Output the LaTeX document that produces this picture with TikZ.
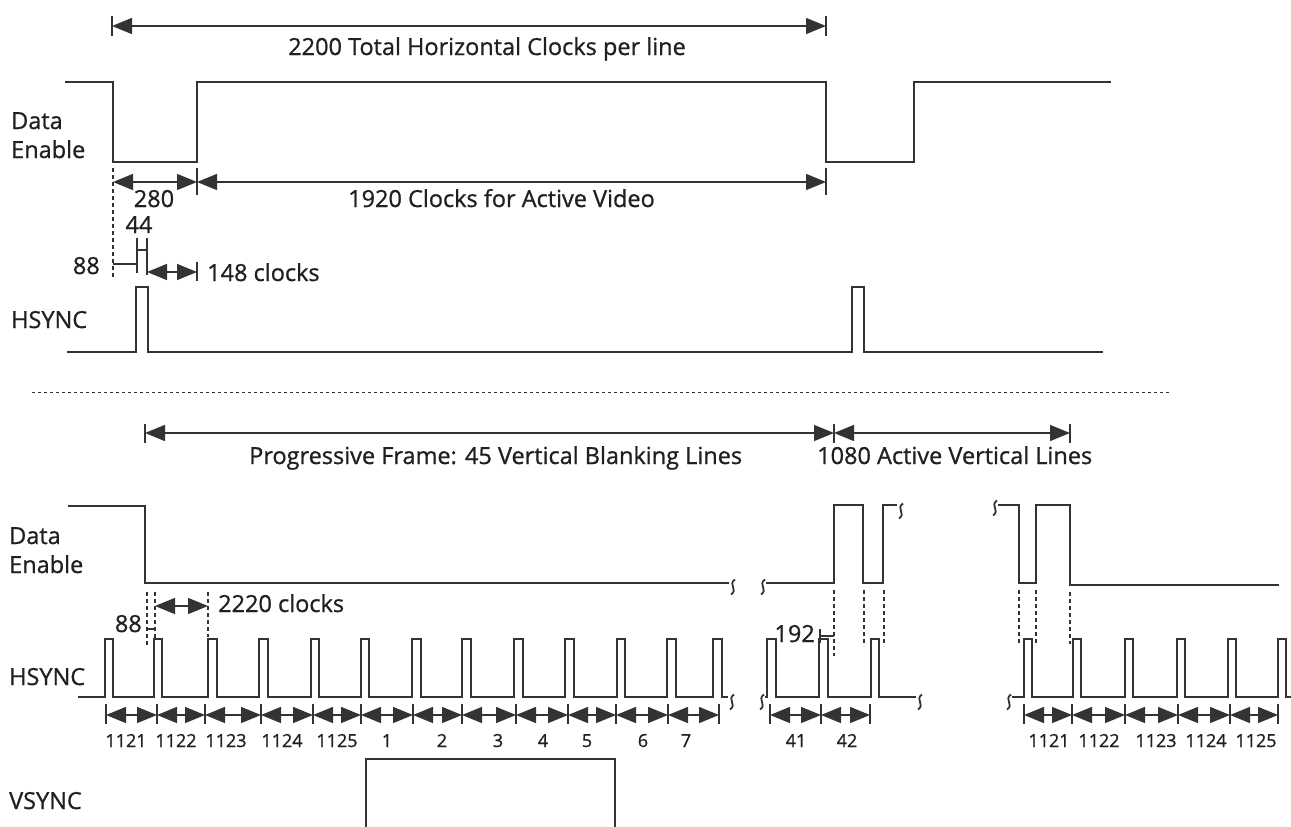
\documentclass[tikz,border=0pt]{standalone}
\usepackage{fontspec}
\setmainfont{Open Sans}[FakeBold=0.9]
\usetikzlibrary{arrows.meta}
\definecolor{ln}{HTML}{333333}
\definecolor{tx}{HTML}{231F20}
\begin{document}
\begin{tikzpicture}[x=1pt,y=-1pt,
  wave/.style={line width=1.7pt,color=ln,line join=miter},
  dim/.style={line width=1.5pt,color=ln,{Triangle[length=20pt,width=16pt]}-{Triangle[length=20pt,width=16pt]}},
  tk/.style={line width=1.5pt,color=ln},
  guide/.style={line width=1.2pt,color=ln,dash pattern=on 4pt off 3pt},
  sep/.style={line width=0.9pt,color=ln,dash pattern=on 3pt off 3pt},
  lbl/.style={font=\fontsize{23.5}{28}\selectfont,text=tx,inner sep=0pt},
  num/.style={font=\fontsize{18}{22}\selectfont,text=tx,inner sep=0pt},
  sq/.pic={\draw[line width=1.8pt,color=ln] (2,-7.5) .. controls (-5.5,-2.5) and (5.5,2.5) .. (-2,7.5);}
]
\useasboundingbox (0,0) rectangle (1291,827);

% ---------------- top: one line ----------------
\draw[dim] (112,26) -- (826,26);
\draw[tk] (112,16) -- (112,36) (826,16) -- (826,36);
\node[lbl,anchor=base] (ttot) at (487,55) {2200 Total Horizontal Clocks per line};

\node[lbl,anchor=base west] (tde1) at (11,129) {Data};
\node[lbl,anchor=base west] (tde2) at (11,158) {Enable};
\draw[wave] (65,82) -- (113,82) -- (113,162) -- (197,162) -- (197,82) -- (826,82)
  -- (826,162) -- (914,162) -- (914,82) -- (1111,82);

\draw[guide] (113,168) -- (113,277);
\draw[dim] (113,182) -- (197,182);
\draw[dim] (197,182) -- (826,182);
\draw[tk] (197,168) -- (197,195) (826,168) -- (826,195);
\node[lbl,anchor=base] (t280) at (154,207) {280};
\node[lbl,anchor=base west] (t1920) at (348,207) {1920 Clocks for Active Video};

\node[lbl,anchor=base] (t44) at (139,233) {44};
\draw[tk] (137,238) -- (137,273) (147,238) -- (147,275) (137,250) -- (147,250);
\node[lbl,anchor=base east] (t88) at (100,274) {88};
\draw[tk] (113,264) -- (137,264);
\draw[dim] (147,272) -- (197,272);
\draw[tk] (197,262) -- (197,281);
\node[lbl,anchor=base west] (t148) at (207,281) {148 clocks};

\node[lbl,anchor=base west] (ths) at (11,328) {HSYNC};
\draw[wave] (67,352) -- (136,352) -- (136,287) -- (148,287) -- (148,352) -- (852,352)
  -- (852,287) -- (864,287) -- (864,352) -- (1103,352);

\draw[sep] (32,392) -- (1170,392);

% ---------------- bottom: one frame ----------------
\draw[dim] (145,433) -- (834,433);
\draw[dim] (834,433) -- (1070,433);
\draw[tk] (145,424) -- (145,443) (834,424) -- (834,443) (1070,424) -- (1070,443);
\node[lbl,anchor=base west] (bprog) at (249,464) {Progressive Frame: 45 Vertical Blanking Lines};
\node[lbl,anchor=base west] (bact) at (817,464) {1080 Active Vertical Lines};

\node[lbl,anchor=base west] (bde1) at (9,544) {Data};
\node[lbl,anchor=base west] (bde2) at (9,573) {Enable};
\draw[wave] (68,506) -- (145,506) -- (145,583) -- (729,583);
\pic at (733,587) {sq};
\pic at (763,587) {sq};
\draw[wave] (766,583) -- (834,583) -- (834,505) -- (863,505) -- (863,583) -- (883,583)
  -- (883,505) -- (897,505);
\pic at (901,511) {sq};
\pic at (995,508) {sq};
\draw[wave] (998,505) -- (1019,505) -- (1019,583) -- (1036,583) -- (1036,505) -- (1070,505)
  -- (1070,585) -- (1279,585);

% guides
\draw[guide] (147,592) -- (147,645) (155,592) -- (155,638) (208,592) -- (208,637);
\draw[tk,line width=1.2pt] (147,629) -- (155,629);
\node[lbl,anchor=base east] (b88) at (142,632) {88};
\draw[dim] (155,606) -- (208,606);
\node[lbl,anchor=base west] (b2220) at (218,612) {2220 clocks};

\draw[guide] (834,590) -- (834,656) (864,590) -- (864,646) (884,590) -- (884,646);
\draw[tk,line width=1.2pt] (820,629) -- (820,643) (820,636) -- (834,636);
\node[lbl,anchor=base east] (b192) at (815,642) {192};
\draw[guide] (1019,590) -- (1019,644) (1036,590) -- (1036,644) (1070,592) -- (1070,644);

% HSYNC
\node[lbl,anchor=base west] (bhs) at (9,685) {HSYNC};
\draw[wave] (78,697) \foreach \a/\b in {105/113,154/162,208/217,259/268,311/319,361/369,412/421,462/471,514/523,565/574,617/625,667/676,713/722}
  { -- (\a,697) -- (\a,639) -- (\b,639) -- (\b,697) } -- (728,697);
\pic at (732,702) {sq};
\pic at (762,702) {sq};
\draw[wave] (765,697) \foreach \a/\b in {767/776,819/828,871/879}
  { -- (\a,697) -- (\a,639) -- (\b,639) -- (\b,697) } -- (916,697);
\pic at (920,702) {sq};
\pic at (1009,702) {sq};
\draw[wave] (1012,697) \foreach \a/\b in {1024/1032,1073/1081,1125/1133,1177/1185,1228/1236,1278/1286}
  { -- (\a,697) -- (\a,639) -- (\b,639) -- (\b,697) } -- (1291,697);

% line counters
\foreach \p/\q in {106/157,157/205,205/261,261/313,313/361,361/413,413/462,462/516,516/568,568/616,616/668,668/719,770/821,821/870,1024/1072,1072/1125,1125/1178,1178/1230,1230/1278}
  { \draw[dim] (\p,715) -- (\q,715); \draw[tk] (\p,704) -- (\p,724) (\q,704) -- (\q,724); }
\foreach \x/\t in {126/1121,176/1122,226/1123,282/1124,337/1125,387/1,442/2,498/3,543/4,587/5,643/6,686/7,796/41,847/42,1049/1121,1099/1122,1156/1123,1206/1124,1256/1125}
  { \node[num,anchor=base] (n\x) at (\x,747) {\t}; }

% VSYNC
\node[lbl,anchor=base west] (bvs) at (9,809) {VSYNC};
\draw[wave] (366,827) -- (366,759) -- (615,759) -- (615,827);
\end{tikzpicture}
\end{document}
